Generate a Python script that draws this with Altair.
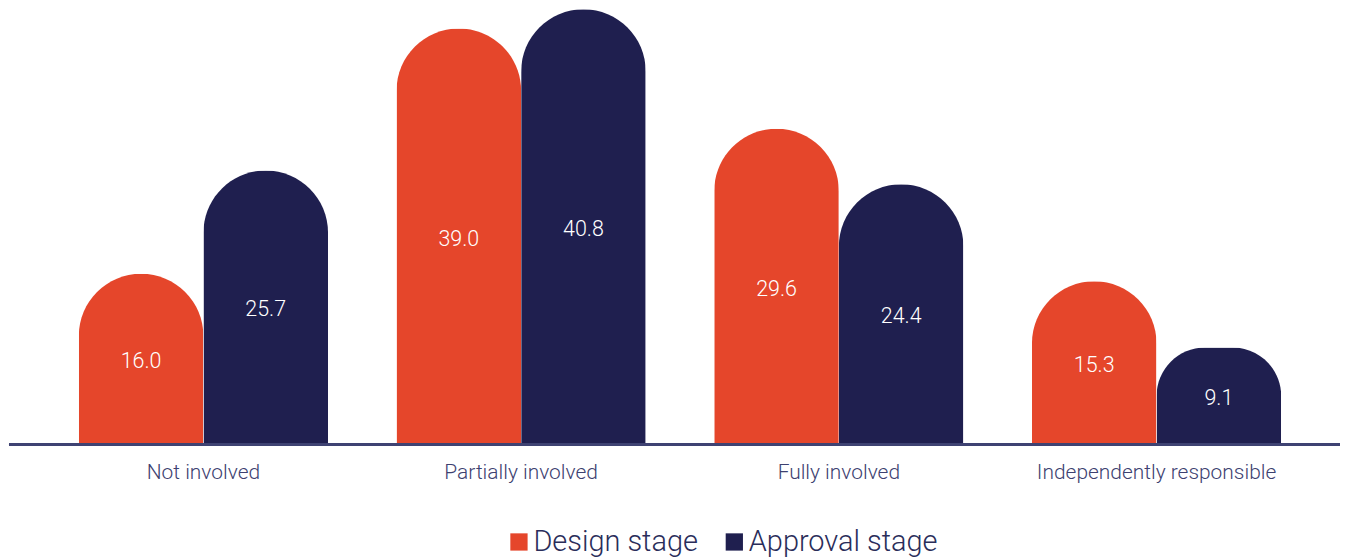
import altair as alt
import pandas as pd

categories = ["Not involved", "Partially involved", "Fully involved", "Independently responsible"]
series = ["Design stage", "Approval stage"]
design_values = [16.0, 39.0, 29.6, 15.3]
approval_values = [25.7, 40.8, 24.4, 9.1]
colors = ["#E5462B", "#1F1F4F"]

rows = []
for c, d, a in zip(categories, design_values, approval_values):
    rows.append({"category": c, "stage": series[0], "value": d})
    rows.append({"category": c, "stage": series[1], "value": a})
df = pd.DataFrame(rows)

W, H = 1335, 437

x = alt.X("category:N", sort=categories, title=None,
          scale=alt.Scale(range=[70, 1276], paddingInner=0.2155, paddingOuter=0),
          axis=alt.Axis(labelAngle=0, labelFontSize=21, labelFont="Roboto", labelFontWeight=300,
                        labelColor="#3D4170", labelPadding=17, ticks=False,
                        domain=False, labelLimit=400))
xo = alt.XOffset("stage:N", sort=series,
                 scale=alt.Scale(paddingInner=0, paddingOuter=0))
y = alt.Y("value:Q", title=None, scale=alt.Scale(domain=[0, 40.85], nice=False, zero=True),
          axis=None)

bars = alt.Chart(df).mark_bar(cornerRadiusTopLeft=62.5, cornerRadiusTopRight=62.5).encode(
    x=x, xOffset=xo, y=y,
    color=alt.Color("stage:N", sort=series,
                    scale=alt.Scale(domain=series, range=colors),
                    legend=alt.Legend(title=None, orient="none", legendX=495, legendY=520,
                                      direction="horizontal", symbolType="square",
                                      symbolSize=300, symbolStrokeWidth=0,
                                      labelFontSize=29, labelFont="Roboto", labelFontWeight=300,
                                      labelColor="#2A2D5A", labelOffset=0, columnPadding=20,
                                      labelLimit=400, padding=0, symbolOffset=2)),
)

labels = alt.Chart(df).transform_calculate(
    mid="datum.value / 2",
    lbl="format(datum.value, '.1f')"
).mark_text(fontSize=21.5, font="Roboto", fontWeight=300, color="white",
            baseline="middle", dy=3).encode(
    x=alt.X("category:N", sort=categories, title=None),
    xOffset=alt.XOffset("stage:N", sort=series),
    y=alt.Y("mid:Q"),
    text="lbl:N",
)

baseline = alt.Chart(df).mark_rule(color="#3F4373", strokeWidth=2).encode(
    x=alt.value(0), x2=alt.value(W), y=alt.value(H)
)

chart = alt.layer(bars, labels, baseline).properties(
    width=W, height=H, padding=0
).configure_view(stroke=None).configure_axis(grid=False)

chart.save("out.html", embed_options={"renderer": "svg", "actions": False})
